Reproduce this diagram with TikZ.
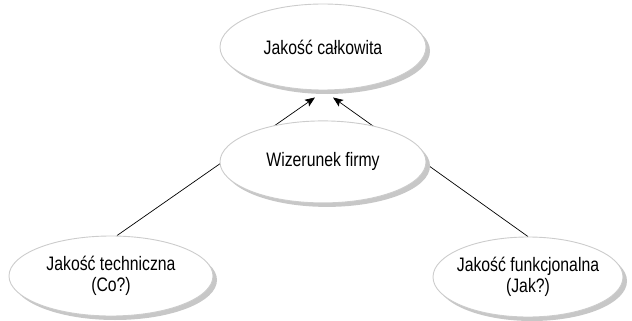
\documentclass[tikz,border=0pt]{standalone}
\usepackage{fontspec}
\setmainfont{Liberation Sans}[FakeStretch=0.81]
\usepackage{tikz}
\usetikzlibrary{arrows.meta,positioning,shapes.geometric,shadows,backgrounds}
\definecolor{rimgray}{gray}{0.80}
\definecolor{shadegray}{gray}{0.78}
\tikzset{
  qualitybox/.style={ellipse,draw=rimgray,line width=0.9pt,fill=white,align=center,
    inner xsep=-16pt,inner ysep=0pt,font=\fontsize{19.5}{20.5}\selectfont,
    drop shadow={shadow xshift=4pt,shadow yshift=-4pt,fill=shadegray,opacity=1}},
  qualityarrow/.style={-{Stealth[length=10pt,width=8pt,inset=2pt]},line width=0.7pt}
}

\begin{document}
\begin{tikzpicture}[x=1pt,y=1pt,node distance=30pt]
  \useasboundingbox (0,0) rectangle (632,-321);
  \node[qualitybox,minimum width=206pt,minimum height=86pt] (total) at (323,-47) {Jakość całkowita};
  \node[qualitybox,minimum width=206pt,minimum height=82pt,below=of total] (image) {Wizerunek firmy};
  \node[qualitybox,minimum width=204pt,minimum height=80pt] (technical) at (111,-276) {Jakość techniczna\\(Co?)};
  \node[qualitybox,minimum width=190pt,minimum height=80pt] (functional) at (528,-277) {Jakość funkcjonalna\\(Jak?)};
  \begin{scope}[on background layer]
    \draw[qualityarrow] ([xshift=6pt]technical.north) -- ([xshift=-8pt,yshift=-7pt]total.south);
    \draw[qualityarrow] (functional.north) -- ([xshift=10pt,yshift=-7pt]total.south);
  \end{scope}
\end{tikzpicture}
\end{document}
